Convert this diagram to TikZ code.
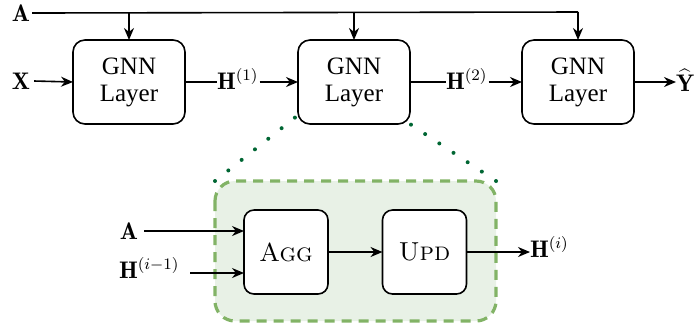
\documentclass[tikz,border=0pt]{standalone}
\usepackage{fontspec}
\newfontfamily\layerfont{Liberation Serif}
\usetikzlibrary{arrows.meta,backgrounds}
\definecolor{blockfill}{HTML}{E8F1E6}
\definecolor{blockedge}{HTML}{82B366}
\definecolor{zoomline}{HTML}{006633}
\begin{document}
\begin{tikzpicture}[x=0.5pt,y=-0.5pt,
  font=\fontsize{12}{14}\selectfont,
  every node/.style={inner sep=0pt, outer sep=0pt},
  layerbox/.style={draw, line width=0.8pt, rounded corners=6pt, fill=white,
    minimum width=56pt, minimum height=42pt, align=center,
    font=\layerfont\fontsize{12.5}{13.5}\selectfont},
  opbox/.style={draw, line width=0.8pt, rounded corners=5pt, fill=white,
    minimum width=42pt, minimum height=42pt, font=\fontsize{13}{15}\selectfont},
  flow/.style={line width=0.8pt, -{Stealth[length=6pt,width=5pt]}},
  plain/.style={line width=0.8pt},
  container/.style={draw=blockedge, fill=blockfill, line width=1.6pt,
    dash pattern=on 5pt off 3.5pt, rounded corners=10pt},
  zoomdots/.style={draw=zoomline, line width=2pt, line cap=round,
    dash pattern=on 0pt off 8.5pt}]
\useasboundingbox (0,0) rectangle (699,329);

% top row: stacked GNN layers
\node[layerbox] (g1) at (129,82) {GNN\\Layer};
\node[layerbox] (g2) at (354,82) {GNN\\Layer};
\node[layerbox] (g3) at (578,82) {GNN\\Layer};

\node (a) at (21,13) {$\mathbf{A}$};
\node (x) at (21,81) {$\mathbf{X}$};
\node[anchor=west] (h1) at (217,79) {$\mathbf{H}^{(1)}$};
\node[anchor=west] (h2) at (446,79) {$\mathbf{H}^{(2)}$};
\node[anchor=west] (y) at (676,80) {$\widehat{\mathbf{Y}}$};

\coordinate (abus) at (578,12);
\draw[plain] (a.east) ++(2,0) -- (abus);
\draw[flow] (g1.north |- abus) -- (g1.north);
\draw[flow] (g2.north |- abus) -- (g2.north);
\draw[flow] (abus) -- (g3.north);

\draw[flow] (x.east) ++(4,0) -- (g1.west);
\draw[plain] (g1.east) -- (h1.west |- g1.east);
\draw[flow] (h1.east |- g2.west) ++(1,0) -- (g2.west);
\draw[plain] (g2.east) -- (h2.west |- g2.east);
\draw[flow] (h2.east |- g3.west) ++(1,0) -- (g3.west);
\draw[flow] (g3.east) -- (y.west |- g3.east);

% inside one layer: aggregate, then update
\node[opbox] (agg) at (286,252) {\textsc{Agg}};
\node[opbox] (upd) at (424.5,252) {\textsc{Upd}};

\node (ain) at (129,231) {$\mathbf{A}$};
\node[anchor=west] (hin) at (119,268) {$\mathbf{H}^{(i-1)}$};
\node[anchor=west] (hout) at (530,247) {$\mathbf{H}^{(i)}$};

\begin{scope}[on background layer]
  \coordinate (cnw) at (215,181);
  \coordinate (cne) at (496,181);
  \coordinate (cse) at (496,321);
  \coordinate (g2sw) at (302,112);
  \draw[zoomdots] (cnw) -- (g2sw);
  \draw[zoomdots] (cne) -- (g2.south east);
  \path[container] (cnw) rectangle (cse);
\end{scope}

\draw[flow] (ain.east) ++(6,0) -- (ain.east -| agg.west);
\coordinate (hinstart) at (190,273);
\draw[flow] (hinstart) -- (agg.west |- hinstart);
\draw[flow] (agg.east) -- (upd.west);
\draw[flow] (upd.east) -- (hout.west |- upd.east);
\end{tikzpicture}
\end{document}
